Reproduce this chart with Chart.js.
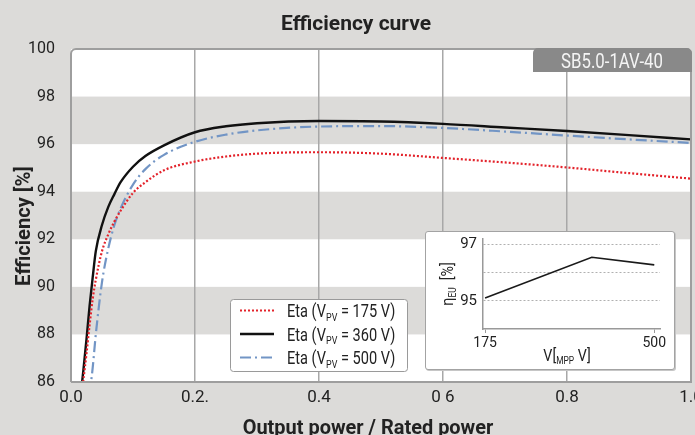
<!DOCTYPE html>
<html>
<head>
<meta charset="utf-8">
<title>Efficiency curve</title>
<script src="https://cdn.jsdelivr.net/npm/chart.js@4.4.1/dist/chart.umd.min.js"></script>
<style>
    html, body { margin: 0; padding: 0; background: #dcdbd9; }
    #wrap { position: relative; width: 695px; height: 435px; overflow: hidden; }
    #myChart { display: block; }
    #inset-box {
        position: absolute; left: 425px; top: 231px; width: 248px; height: 137px;
        background: #fff; border: 1px solid #a3a3a3; border-radius: 3px;
        box-shadow: 1px 1px 0 #c6c6c6;
    }
    #insetChart { display: block; }
</style>
</head>
<body>
<div id="wrap">
    <canvas id="myChart" width="695" height="435"></canvas>
    <div id="inset-box"><canvas id="insetChart" width="248" height="137"></canvas></div>
</div>
<script>
// values //
const loadRatio = [0.015, 0.02, 0.025, 0.03, 0.035, 0.04, 0.05, 0.06, 0.07, 0.08, 0.1, 0.12, 0.15, 0.2, 0.25, 0.3, 0.4, 0.5, 0.6, 0.7, 0.8, 0.9, 1.0];
const eta175 = [85.0, 86.1, 87.2, 88.4, 89.5, 90.3, 91.5, 92.2, 92.75, 93.2, 93.95, 94.4, 94.9, 95.27, 95.48, 95.6, 95.66, 95.6, 95.42, 95.23, 95.02, 94.78, 94.55];
const eta360 = [85.3, 86.5, 87.8, 89.2, 90.4, 91.5, 92.6, 93.35, 93.9, 94.4, 95.05, 95.5, 95.95, 96.5, 96.75, 96.88, 96.97, 96.95, 96.85, 96.7, 96.55, 96.38, 96.2];
const eta500 = [null, null, null, 85.5, 86.6, 88.0, 90.2, 91.6, 92.6, 93.3, 94.3, 94.95, 95.55, 96.1, 96.4, 96.58, 96.74, 96.76, 96.68, 96.53, 96.36, 96.2, 96.05];
const pvVoltages = [175, 360, 500];
const xTickLabels = ['0.0', '0.2.', '0.4', '0 6', '0.8', '1.0'];
const deviceName = 'SB5.0-1AV-40';

// small euro efficiency chart //
const mppVoltage = [175, 380, 500];
const euroEta = [95.1, 96.55, 96.28];
const insetYLabels = { 95: '95', 97: '97' };

const FONT = "Roboto, 'Liberation Sans', sans-serif";
const TEXT = '#222';
const BAND = '#dcdbd9';
Chart.defaults.font.family = FONT;
Chart.defaults.color = TEXT;

function toPoints(xs, ys) {
    return xs.map((x, i) => ({ x: x, y: ys[i] }));
}

// text with a subscript part, parts = [[text, isSub], ...], squeezed a bit like the datasheet font //
function drawRich(ctx, parts, x, y, size, align, squeeze, weight) {
    const w = weight || '';
    const fontOf = p => `${w} ${p[1] ? Math.round(size * 0.6) : size}px ${FONT}`;
    const widths = parts.map(p => {
        ctx.font = fontOf(p);
        return ctx.measureText(p[0]).width;
    });
    const total = widths.reduce((a, b) => a + b, 0);
    ctx.save();
    ctx.translate(x, y);
    ctx.scale(squeeze, 1);
    let cx = align === 'center' ? -total / 2 : 0;
    ctx.textAlign = 'left';
    ctx.textBaseline = 'alphabetic';
    parts.forEach((p, i) => {
        ctx.font = fontOf(p);
        ctx.fillText(p[0], cx, p[1] ? size * 0.2 : 0);
        cx += widths[i];
    });
    ctx.restore();
}

const plotFrame = {
    id: 'plotFrame',
    beforeDraw(chart) {
        const { ctx, chartArea: a, scales: { y } } = chart;
        ctx.save();
        ctx.fillStyle = '#fff';
        ctx.fillRect(a.left, a.top, a.width, a.height);
        ctx.fillStyle = BAND;
        for (let v = 88; v < 100; v += 4) {
            const top = y.getPixelForValue(v + 2);
            const bottom = y.getPixelForValue(v);
            ctx.fillRect(a.left, top, a.width, bottom - top);
        }
        ctx.restore();
    },
    afterDatasetsDraw(chart) {
        const { ctx, chartArea: a } = chart;
        ctx.save();

        // frame round the plot //
        const r = 5;
        ctx.strokeStyle = '#9e9e9e';
        ctx.lineWidth = 2;
        ctx.beginPath();
        ctx.moveTo(a.left, a.bottom);
        ctx.arcTo(a.left, a.top, a.right, a.top, r);
        ctx.arcTo(a.right, a.top, a.right, a.bottom, r);
        ctx.lineTo(a.right, a.bottom);
        ctx.lineTo(a.left, a.bottom);
        ctx.stroke();

        // device name tab //
        const tabLeft = a.right - 158;
        ctx.fillStyle = '#898989';
        ctx.beginPath();
        ctx.roundRect(tabLeft, a.top - 1, a.right - tabLeft + 1, 24, [5, 5, 0, 0]);
        ctx.fill();
        ctx.fillStyle = '#f4f4f4';
        drawRich(ctx, [[deviceName, false]], (tabLeft + a.right) / 2, a.top + 19, 20, 'center', 0.84);

        // legend //
        const lx = 230, ly = 299;
        ctx.fillStyle = '#fff';
        ctx.strokeStyle = '#9a9a9a';
        ctx.lineWidth = 1;
        ctx.beginPath();
        ctx.roundRect(lx + 0.5, ly + 0.5, 177, 72, 3);
        ctx.fill();
        ctx.stroke();
        chart.data.datasets.forEach((ds, i) => {
            const rowY = ly + 11.5 + i * 23.5;
            ctx.strokeStyle = ds.borderColor;
            ctx.lineWidth = ds.borderWidth;
            ctx.setLineDash(ds.borderDash || []);
            ctx.beginPath();
            ctx.moveTo(lx + 10, rowY);
            ctx.lineTo(lx + 44, rowY);
            ctx.stroke();
            ctx.setLineDash([]);
            ctx.fillStyle = TEXT;
            drawRich(ctx, [['Eta (V', false], ['PV', true], [` = ${pvVoltages[i]} V)`, false]], lx + 57, rowY + 6.5, 18, 'left', 0.81);
        });

        // axis titles //
        ctx.fillStyle = TEXT;
        drawRich(ctx, [['Output power / Rated power', false]], 368, 434, 21, 'center', 0.95, 'bold');
        ctx.translate(30, 226);
        ctx.rotate(-Math.PI / 2);
        drawRich(ctx, [['Efficiency [%]', false]], 0, 0, 21, 'center', 0.96, 'bold');
        ctx.restore();
    }
};

const ctx = document.getElementById('myChart').getContext('2d');
const myChart = new Chart(ctx, {
    type: 'line',
    data: {
        datasets: [{
            label: 'Eta (VPV = 175 V)',
            data: toPoints(loadRatio, eta175),
            borderColor: '#e3222a',
            borderWidth: 2.2,
            borderDash: [2, 2]
        }, {
            label: 'Eta (VPV = 360 V)',
            data: toPoints(loadRatio, eta360),
            borderColor: '#111111',
            borderWidth: 2.4
        }, {
            label: 'Eta (VPV = 500 V)',
            data: toPoints(loadRatio, eta500),
            borderColor: '#7295c5',
            borderWidth: 2.2,
            borderDash: [11, 4, 2, 4]
        }]
    },
    options: {
        responsive: false,
        animation: false,
        layout: { padding: { left: 21, right: 4, top: 0, bottom: 0 } },
        elements: {
            point: { radius: 0 },
            line: { cubicInterpolationMode: 'monotone' }
        },
        plugins: {
            legend: { display: false },
            tooltip: { enabled: false },
            title: {
                display: true,
                text: 'Efficiency curve',
                color: TEXT,
                font: { size: 21, weight: 'bold' },
                padding: { top: 12, bottom: 11.8 }
            }
        },
        scales: {
            x: {
                type: 'linear',
                min: 0,
                max: 1,
                ticks: {
                    stepSize: 0.2,
                    autoSkip: false,
                    maxRotation: 0,
                    padding: 6,
                    color: TEXT,
                    font: { size: 17 },
                    callback: (v, i) => xTickLabels[i]
                },
                grid: {
                    drawTicks: false,
                    lineWidth: 1.5,
                    color: c => (c.tick && c.tick.value > 0.01 && c.tick.value < 0.99) ? '#a8a8a8' : 'rgba(0,0,0,0)'
                },
                border: { display: false },
                afterFit: s => { s.height = 53; s.paddingLeft = 0; s.paddingRight = 0; }
            },
            y: {
                min: 86,
                max: 100,
                ticks: { stepSize: 2, padding: 8, color: TEXT, font: { size: 16 } },
                grid: { display: false },
                border: { display: false },
                afterFit: s => { s.width = 50; s.paddingTop = 0; s.paddingBottom = 0; }
            }
        }
    },
    plugins: [plotFrame]
});

// titles of the small chart, with subscripts //
const insetTitles = {
    id: 'insetTitles',
    afterDraw(chart) {
        const c = chart.ctx;
        c.save();
        c.fillStyle = TEXT;
        drawRich(c, [['V[', false], ['MPP', true], [' V]', false]], 141, 129, 17, 'center', 0.84);
        c.translate(27, 52);
        c.rotate(-Math.PI / 2);
        drawRich(c, [['\u03b7', false], ['EU', true], ['  [%]', false]], 0, 0, 17, 'center', 0.84);
        c.restore();
    }
};

const insetChart = new Chart(document.getElementById('insetChart'), {
    type: 'line',
    data: {
        datasets: [{
            data: toPoints(mppVoltage, euroEta),
            borderColor: '#1a1a1a',
            borderWidth: 1.6,
            pointRadius: 0,
            tension: 0
        }]
    },
    options: {
        responsive: false,
        animation: false,
        layout: { padding: { left: 0, right: 14, top: 7, bottom: 0 } },
        plugins: { legend: { display: false }, tooltip: { enabled: false } },
        scales: {
            x: {
                type: 'linear',
                min: 171,
                max: 511,
                afterBuildTicks: s => { s.ticks = [{ value: 175 }, { value: 500 }]; },
                ticks: { padding: 2, color: TEXT, font: { size: 14 } },
                grid: { drawOnChartArea: false, tickLength: 4, color: '#999' },
                border: { color: '#999', width: 1.5 },
                afterFit: s => { s.height = 40; s.paddingLeft = 0; s.paddingRight = 0; }
            },
            y: {
                min: 94,
                max: 97.2,
                afterBuildTicks: s => { s.ticks = [{ value: 95 }, { value: 96 }, { value: 97 }]; },
                ticks: { padding: 6, color: TEXT, font: { size: 15 }, callback: v => insetYLabels[v] || '' },
                grid: { drawTicks: false, color: '#b0b0b0', lineWidth: 1 },
                border: { color: '#999', width: 1.5, dash: [2, 2] },
                afterFit: s => { s.width = 57; s.paddingTop = 0; s.paddingBottom = 0; }
            }
        }
    },
    plugins: [insetTitles]
});
</script>
</body>
</html>
